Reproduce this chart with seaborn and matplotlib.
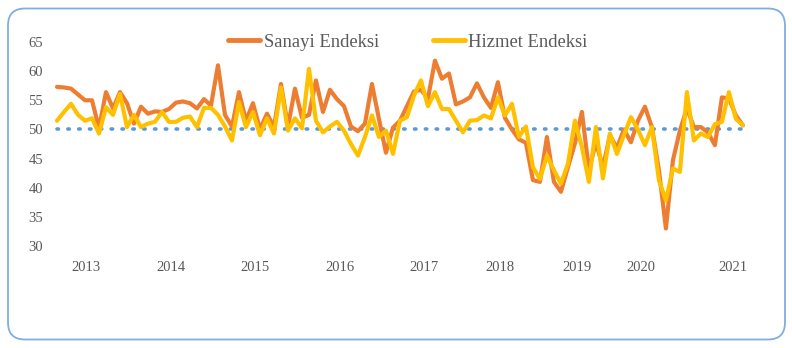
import numpy as np
import pandas as pd
import seaborn as sns
import matplotlib
matplotlib.use("Agg")
import matplotlib.pyplot as plt
from matplotlib.patches import FancyBboxPatch

sanayi = [57.3, 57.2, 57.0, 56.0, 55.0, 55.0, 50.2, 56.4, 53.6, 56.4,
          54.5, 51.0, 53.9, 52.7, 53.1, 53.0, 53.5, 54.6, 54.8, 54.5,
          53.6, 55.2, 54.1, 61.0, 52.5, 50.5, 56.4, 51.5, 54.5, 50.0,
          52.7, 50.4, 57.8, 50.5, 57.0, 52.0, 52.5, 58.4, 53.0, 56.8,
          55.2, 54.0, 50.5, 49.7, 51.0, 57.8, 51.8, 46.0, 50.3, 51.5,
          54.0, 56.5, 56.8, 55.3, 61.8, 58.7, 59.6, 54.3, 54.8, 55.5,
          57.9, 55.5, 53.7, 58.1, 52.0, 50.0, 48.3, 47.7, 41.3, 41.0,
          48.7, 41.0, 39.3, 43.5, 47.6, 53.0, 43.0, 47.8, 43.5, 49.0,
          46.8, 50.0, 47.8, 51.5, 53.9, 50.4, 43.0, 33.0, 44.7, 49.8,
          53.6, 50.4, 50.4, 49.5, 47.3, 55.5, 55.3, 52.4, 50.7]

hizmet = [51.5, 53.0, 54.4, 52.5, 51.5, 51.9, 49.3, 53.8, 52.5, 56.1,
          50.4, 52.5, 50.4, 51.0, 51.3, 53.0, 51.3, 51.3, 52.0, 52.2,
          50.4, 53.7, 53.7, 52.5, 50.5, 48.1, 54.7, 50.4, 53.0, 49.0,
          51.9, 49.3, 57.2, 49.8, 51.9, 50.2, 60.4, 51.5, 49.5, 50.5,
          51.3, 49.8, 47.5, 45.5, 48.7, 52.4, 48.7, 49.8, 45.8, 51.5,
          52.1, 55.8, 58.4, 54.0, 56.4, 53.5, 53.5, 51.5, 49.5, 51.5,
          51.6, 52.4, 51.9, 55.5, 52.4, 54.4, 48.7, 50.5, 43.5, 41.5,
          45.5, 43.0, 40.7, 44.1, 51.5, 47.0, 41.0, 50.4, 41.6, 49.3,
          45.8, 49.0, 52.1, 50.0, 47.3, 50.4, 41.3, 37.8, 43.3, 42.7,
          56.4, 48.1, 49.3, 48.7, 50.9, 51.3, 56.4, 51.8, 50.7]

year_labels = ["2013", "2014", "2015", "2016", "2017", "2018", "2019", "2020", "2021"]
year_pos = [4.1, 16.3, 28.3, 40.4, 52.4, 63.3, 74.3, 83.4, 96.6]
y_ticks = [30, 35, 40, 45, 50, 55, 60, 65]
threshold = 50

df = pd.DataFrame({
    "t": list(range(len(sanayi))) * 2,
    "value": sanayi + hizmet,
    "series": ["Sanayi Endeksi"] * len(sanayi) + ["Hizmet Endeksi"] * len(hizmet),
})

sns.set_style("white")
plt.rcParams["font.family"] = ["Liberation Serif", "DejaVu Serif"]

fig = plt.figure(figsize=(7.92, 3.48), dpi=100)
fig.patch.set_facecolor("white")

box = FancyBboxPatch((0.08, 0.085), 7.77, 3.31,
                     boxstyle="round,pad=0,rounding_size=0.17",
                     transform=fig.dpi_scale_trans, facecolor="none",
                     edgecolor="#7FAEE3", linewidth=1.3, zorder=5)
fig.patches.append(box)

ax = fig.add_axes([50 / 792, (348 - 246) / 348, 702 / 792, 204 / 348])
ax.set_facecolor("none")

ax.axhline(threshold, xmin=0.01, xmax=0.985, color="#5B9BD5", linewidth=2.6,
           linestyle=(0, (0.4, 2.6)), dash_capstyle="round", zorder=1)

palette = {"Sanayi Endeksi": "#ED7D31", "Hizmet Endeksi": "#FFC000"}
sns.lineplot(data=df, x="t", y="value", hue="series", palette=palette,
             linewidth=3.0, ax=ax, legend=True, zorder=2)
for line in ax.get_lines():
    line.set_solid_joinstyle("round")
    line.set_solid_capstyle("round")

ax.set_xlim(-1, 99.3)
ax.set_ylim(30, 65)
ax.set_yticks(y_ticks)
ax.set_yticklabels([str(v) for v in y_ticks])
ax.set_xticks(year_pos)
ax.set_xticklabels(year_labels)
ax.tick_params(axis="both", length=0, labelsize=10.5, labelcolor="#595959")
ax.tick_params(axis="x", pad=11)
ax.tick_params(axis="y", pad=5)
ax.set_xlabel("")
ax.set_ylabel("")
for s in ax.spines.values():
    s.set_visible(False)
ax.grid(False)

handles, labels = ax.get_legend_handles_labels()
leg = ax.legend(handles, labels, loc="center", bbox_to_anchor=(408 / 792, (348 - 42) / 348),
                bbox_transform=fig.transFigure, ncol=2, frameon=False,
                fontsize=13.4, handlelength=1.7, columnspacing=2.9, handletextpad=0.2)
for t in leg.get_texts():
    t.set_color("#595959")
for h in leg.get_lines():
    h.set_linewidth(3.5)

fig.savefig("out.png", dpi=100, facecolor="white")
